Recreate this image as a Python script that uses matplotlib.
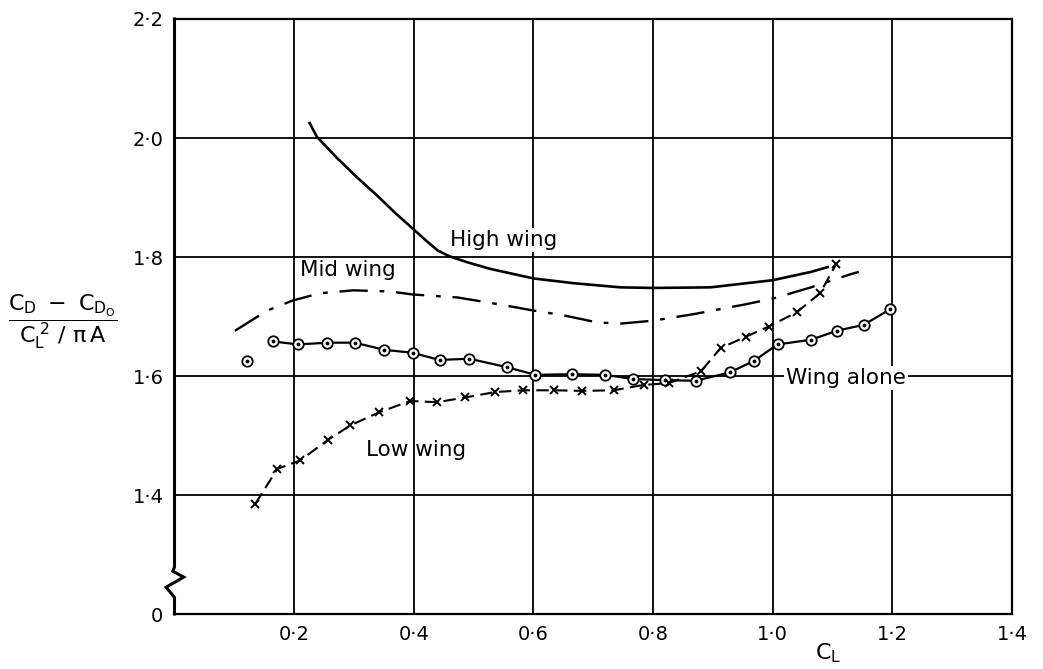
import numpy as np
import matplotlib
matplotlib.use("Agg")
import matplotlib.pyplot as plt

plt.rcParams["font.family"] = ["DejaVu Sans"]
plt.rcParams["mathtext.default"] = "regular"

# ---------- datos ----------
high_x = [0.226, 0.238, 0.272, 0.305, 0.339, 0.370, 0.398, 0.420, 0.440, 0.460,
          0.490, 0.528, 0.600, 0.667, 0.745, 0.800, 0.896, 1.000, 1.064, 1.092]
high_y = [2.025, 2.002, 1.966, 1.934, 1.903, 1.873, 1.848, 1.828, 1.811, 1.801,
          1.791, 1.780, 1.764, 1.756, 1.749, 1.748, 1.749, 1.761, 1.775, 1.783]

mid_x = [0.101, 0.155, 0.198, 0.243, 0.299, 0.361, 0.398, 0.473, 0.545, 0.600,
         0.650, 0.707, 0.745, 0.800, 0.868, 0.952, 1.000, 1.064, 1.130, 1.144]
mid_y = [1.676, 1.710, 1.727, 1.739, 1.744, 1.742, 1.737, 1.732, 1.720, 1.710,
         1.702, 1.690, 1.688, 1.693, 1.704, 1.720, 1.730, 1.749, 1.771, 1.775]

alone_x = [0.121, 0.165, 0.207, 0.255, 0.301, 0.351, 0.398, 0.443, 0.493, 0.555,
           0.603, 0.665, 0.719, 0.766, 0.820, 0.871, 0.928, 0.968, 1.008, 1.064,
           1.107, 1.152, 1.196]
alone_y = [1.625, 1.658, 1.653, 1.656, 1.656, 1.644, 1.639, 1.627, 1.629, 1.615,
           1.602, 1.603, 1.602, 1.595, 1.593, 1.592, 1.606, 1.625, 1.653, 1.661,
           1.676, 1.686, 1.712]

low_x = [0.135, 0.172, 0.210, 0.257, 0.294, 0.342, 0.394, 0.439, 0.486, 0.536,
         0.583, 0.634, 0.682, 0.734, 0.784, 0.826, 0.880, 0.913, 0.955, 0.993,
         1.040, 1.079, 1.106]
low_y = [1.385, 1.444, 1.458, 1.493, 1.517, 1.539, 1.558, 1.556, 1.564, 1.573,
         1.576, 1.576, 1.575, 1.576, 1.585, 1.588, 1.608, 1.647, 1.666, 1.683,
         1.707, 1.739, 1.788]

x_ticks = [0.2, 0.4, 0.6, 0.8, 1.0, 1.2, 1.4]
x_labels = ["0·2", "0·4", "0·6", "0·8", "1·0", "1·2", "1·4"]
y_ticks = [1.2, 1.4, 1.6, 1.8, 2.0, 2.2]
y_labels = ["0", "1·4", "1·6", "1·8", "2·0", "2·2"]

# ---------- figura ----------
fig = plt.figure(figsize=(10.43, 6.69), dpi=100)
ax = fig.add_axes([0.1673, 0.0822, 0.8030, 0.8894])
ax.set_xlim(0.0, 1.4)
ax.set_ylim(1.2, 2.2)

ax.set_xticks(x_ticks, x_labels)
ax.set_yticks(y_ticks, y_labels)
ax.tick_params(length=0, labelsize=14, pad=8)
ax.grid(True, color="black", lw=1.3)
ax.set_axisbelow(True)
for side in ["top", "right", "bottom"]:
    ax.spines[side].set_linewidth(1.6)
ax.spines["left"].set_visible(False)

# eje izquierdo con corte (zig-zag) cerca del cero
bx = [0.0, 0.0, -0.010, 0.011, -0.002, 0.0, 0.0]
by = [0.0, 0.028, 0.045, 0.062, 0.072, 0.079, 1.0]
ax.plot(bx, by, transform=ax.transAxes, color="black", lw=2.2,
        clip_on=False, solid_joinstyle="miter")

# curvas
ax.plot(high_x, high_y, color="black", lw=1.9)
ax.plot(mid_x, mid_y, color="black", lw=1.7, dashes=(12, 5, 2, 5))
ax.plot(alone_x[1:], alone_y[1:], color="black", lw=1.6)
ax.plot(alone_x, alone_y, ls="none", marker="o", ms=7.5, mfc="white",
        mec="black", mew=1.3)
ax.plot(alone_x, alone_y, ls="none", marker="o", ms=1.8, color="black")
ax.plot(low_x, low_y, color="black", lw=1.5, dashes=(6, 3))
ax.plot(low_x, low_y, ls="none", marker="x", ms=6, mec="black", mew=1.4)

# rotulos de las curvas
box = dict(facecolor="white", edgecolor="none", pad=1.5)
ax.text(0.46, 1.829, "High wing", fontsize=15.5, va="center", ha="left", bbox=box)
ax.text(0.21, 1.778, "Mid wing", fontsize=15.5, va="center", ha="left")
ax.text(0.32, 1.475, "Low wing", fontsize=15.5, va="center", ha="left")
ax.text(1.022, 1.597, "Wing alone", fontsize=15.5, va="center", ha="left", bbox=box)

# titulos de ejes
fig.text(0.794, 0.024, r"$C_L$", fontsize=16, ha="center", va="center")
fig.text(0.008, 0.519, r"$\dfrac{C_D\ -\ C_{D_O}}{C_L^{\ 2}\ /\ \pi\, A}$",
         fontsize=16, ha="left", va="center")

fig.savefig("out.png", dpi=100)
